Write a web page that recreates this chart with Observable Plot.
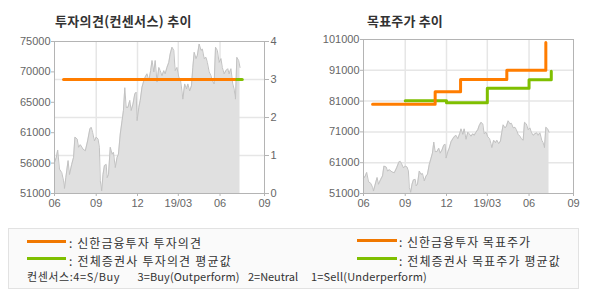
<!DOCTYPE html>
<html><head><meta charset="utf-8">
<script src="https://cdn.jsdelivr.net/npm/d3@7"></script>
<script src="https://cdn.jsdelivr.net/npm/@observablehq/plot@0.6"></script>
<style>
body{margin:0;background:#fff;}
#wrap{position:relative;width:590px;height:300px;overflow:hidden;}
.title{position:absolute;top:11px;font:bold 13px "Noto Sans CJK KR",sans-serif;color:#333;white-space:nowrap;}
.chart{position:absolute;top:0;}
#legend{position:absolute;left:8px;top:228px;width:569px;height:59px;border:1px solid #e2e2e2;background:#fafafa;}
.lg{position:absolute;height:14px;line-height:14px;font:12px "Noto Sans CJK KR",sans-serif;color:#333;white-space:nowrap;}
.sw{position:absolute;height:3px;}
.note{position:absolute;font:11px "Noto Sans CJK KR",sans-serif;color:#333;white-space:pre;line-height:14px;}
</style></head><body>
<div id="wrap">
<div id="c1" class="chart" style="left:0"></div>
<div id="c2" class="chart" style="left:295px"></div>
<div class="title" style="left:55px" id="t1"></div>
<div class="title" style="left:367px" id="t2"></div>
<div id="legend"></div>
</div>
<script>
// ---- data ----
const titles = ["투자의견(컨센서스) 추이", "목표주가 추이"];

const priceDates = ["2018-06-01","2018-06-05","2018-06-08","2018-06-12","2018-06-17","2018-06-21","2018-06-23","2018-06-26","2018-07-01","2018-07-04","2018-07-09","2018-07-13","2018-07-16","2018-07-21","2018-07-24","2018-07-28","2018-08-03","2018-08-08","2018-08-13","2018-08-18","2018-08-21","2018-08-24","2018-08-28","2018-09-01","2018-09-05","2018-09-08","2018-09-10","2018-09-13","2018-09-16","2018-09-19","2018-09-23","2018-09-25","2018-09-28","2018-10-02","2018-10-06","2018-10-09","2018-10-13","2018-10-17","2018-10-20","2018-10-24","2018-10-28","2018-10-31","2018-11-03","2018-11-06","2018-11-10","2018-11-14","2018-11-17","2018-11-21","2018-11-25","2018-11-28","2018-11-30","2018-12-04","2018-12-07","2018-12-11","2018-12-15","2018-12-18","2018-12-22","2018-12-26","2018-12-30","2019-01-02","2019-01-06","2019-01-09","2019-01-13","2019-01-17","2019-01-20","2019-01-24","2019-01-28","2019-01-31","2019-02-04","2019-02-08","2019-02-11","2019-02-15","2019-02-19","2019-02-22","2019-02-26","2019-03-02","2019-03-06","2019-03-09","2019-03-11","2019-03-15","2019-03-19","2019-03-22","2019-03-26","2019-03-30","2019-04-02","2019-04-05","2019-04-09","2019-04-12","2019-04-16","2019-04-20","2019-04-23","2019-04-27","2019-05-01","2019-05-04","2019-05-08","2019-05-12","2019-05-15","2019-05-19","2019-05-22","2019-05-26","2019-05-30","2019-06-03","2019-06-06","2019-06-10","2019-06-14","2019-06-18","2019-06-21","2019-06-25","2019-06-29","2019-07-02","2019-07-05","2019-07-08","2019-07-12","2019-07-15"];
const prices = [55900,56700,57850,54850,54300,53000,51800,53500,56200,54000,55600,56700,59900,59600,58300,58700,58000,57750,59300,61200,61450,60650,59300,59900,59600,58300,53000,51400,54000,55400,55600,53500,54000,58300,57200,57500,55100,56700,57200,60400,62500,64100,67700,64600,64600,65700,64100,65100,66700,67000,62500,64600,65700,67800,68800,69400,69900,68800,70400,72000,70200,72000,68600,70900,70400,69600,70400,69900,70900,71700,73000,74100,73600,70400,70900,69400,68800,67200,65900,68300,67500,68300,67200,68000,70900,73300,72300,72800,74600,73600,73800,72300,72500,71700,70200,69600,68800,68300,74100,73600,71700,72300,70900,69900,70400,70700,69900,70700,68300,67500,65900,72500,72000,70900];

// 투자의견 (consensus, 0-4)
const consShinhanDates = ["2018-06-21","2019-07-08"];
const consShinhan = [3, 3];
const consAllDates = ["2019-07-08","2019-07-20"];
const consAll = [3, 3];

// 목표주가 (target price)
const tpShinhanDates = ["2018-06-21","2018-11-06","2019-01-01","2019-04-13","2019-07-08"];
const tpShinhan = [80000, 84000, 88000, 91000, 100000];
const tpAllDates = ["2018-09-01","2018-12-01","2019-03-01","2019-06-01","2019-07-20"];
const tpAll = [81100, 80500, 85200, 87900, 90700];

const xDomainDates = ["2018-06-01","2019-09-07"];
const xTickDates = ["2018-06-01","2018-09-01","2018-12-01","2019-03-01","2019-06-01","2019-09-07"];
const xTickLabels = ["06","09","12","19/03","06","09"];

const leftDomain = [51000, 75000];
const leftTickLabels = ["51000","56000","61000","65000","70000","75000"];
const consDomain = [0, 4];
const consTickLabels = ["0","1","2","3","4"];

const rightDomain = [51000, 101000];
const rightTickLabels = ["51000","61000","71000","81000","91000","101000"];

const legendItems = [": 신한금융투자 투자의견", ": 전체증권사 투자의견 평균값", ": 신한금융투자 목표주가", ": 전체증권사 목표주가 평균값"];
const legendColors = ["#f07800", "#7fbf00", "#f07800", "#7fbf00"];
const noteParts = ["컨센서스:4=S/Buy", "3=Buy(Outperform)", "2=Neutral", "1=Sell(Underperform)"];

// ---- build ----
const parse = d3.utcParse("%Y-%m-%d");
const priceData = priceDates.map((d, i) => ({date: parse(d), price: prices[i]}));
const xDomain = xDomainDates.map(parse);
const xTicks = xTickDates.map(parse);
const xLabelMap = new Map(xTicks.map((d, i) => [+d, xTickLabels[i]]));
const innerX = xTicks.slice(1, -1);

const ORANGE = "#ff7d00", GREEN = "#7fbf00";
const GRID = "#e6e6e6", FRAME = "#b4b4b4", TXT = "#666";

const leftTicks = d3.range(leftTickLabels.length).map(i => leftDomain[0] + i * (leftDomain[1] - leftDomain[0]) / (leftTickLabels.length - 1));
const leftLabelMap = new Map(leftTicks.map((v, i) => [v, leftTickLabels[i]]));
const consToY = v => leftDomain[0] + (v - consDomain[0]) / (consDomain[1] - consDomain[0]) * (leftDomain[1] - leftDomain[0]);
const consTicks = consTickLabels.map(Number).map(consToY);
const consLabelMap = new Map(consTicks.map((v, i) => [v, consTickLabels[i]]));

const consS = consShinhanDates.map((d, i) => ({date: parse(d), y: consToY(consShinhan[i])}));
const consA = consAllDates.map((d, i) => ({date: parse(d), y: consToY(consAll[i])}));

const common = {
  width: 295, height: 215,
  style: {fontFamily: "'Liberation Sans', Arial, sans-serif", fontSize: "11px", background: "transparent", overflow: "visible"}
};

const p1 = Plot.plot({
  ...common,
  marginLeft: 54, marginRight: 31, marginTop: 41, marginBottom: 22,
  x: {type: "utc", domain: xDomain},
  y: {domain: leftDomain},
  marks: [
    Plot.ruleY(consTicks.slice(1, -1), {stroke: GRID, strokeWidth: 1.5}),
    Plot.ruleX(innerX, {stroke: GRID, strokeWidth: 1.5}),
    Plot.areaY(priceData, {x: "date", y1: leftDomain[0], y2: "price", fill: "#e0e0e0"}),
    Plot.line(priceData, {x: "date", y: "price", stroke: "#c2c2c2", strokeWidth: 1}),
    Plot.line(consS, {x: "date", y: "y", stroke: ORANGE, strokeWidth: 3}),
    Plot.line(consA, {x: "date", y: "y", stroke: GREEN, strokeWidth: 3}),
    Plot.frame({stroke: FRAME}),
    Plot.axisY(leftTicks, {anchor: "left", tickSize: 3, tickPadding: 1, stroke: FRAME, fill: TXT, tickFormat: d => leftLabelMap.get(d), label: null}),
    Plot.axisY(consTicks, {anchor: "right", tickSize: 4, tickPadding: 2, stroke: FRAME, fill: TXT, tickFormat: d => consLabelMap.get(d), label: null}),
    Plot.axisX(xTicks, {anchor: "bottom", tickSize: 3, tickPadding: 3, stroke: FRAME, fill: TXT, tickFormat: d => xLabelMap.get(+d), label: null})
  ]
});
document.getElementById("c1").append(p1);

const rightTicks = d3.range(rightTickLabels.length).map(i => rightDomain[0] + i * (rightDomain[1] - rightDomain[0]) / (rightTickLabels.length - 1));
const rightLabelMap = new Map(rightTicks.map((v, i) => [v, rightTickLabels[i]]));
const tpS = tpShinhanDates.map((d, i) => ({date: parse(d), tp: tpShinhan[i]}));
const tpA = tpAllDates.map((d, i) => ({date: parse(d), tp: tpAll[i]}));

const p2 = Plot.plot({
  ...common,
  marginLeft: 68, marginRight: 17, marginTop: 39, marginBottom: 22,
  x: {type: "utc", domain: xDomain},
  y: {domain: rightDomain},
  marks: [
    Plot.ruleY(rightTicks.slice(1, -1), {stroke: GRID, strokeWidth: 1.5}),
    Plot.ruleX(innerX, {stroke: GRID, strokeWidth: 1.5}),
    Plot.areaY(priceData, {x: "date", y1: rightDomain[0], y2: "price", fill: "#e0e0e0"}),
    Plot.line(priceData, {x: "date", y: "price", stroke: "#c2c2c2", strokeWidth: 1}),
    Plot.line(tpA, {x: "date", y: "tp", stroke: GREEN, strokeWidth: 3, curve: "step-after"}),
    Plot.line(tpS, {x: "date", y: "tp", stroke: ORANGE, strokeWidth: 3, curve: "step-after"}),
    Plot.frame({stroke: FRAME}),
    Plot.axisY(rightTicks, {anchor: "left", tickSize: 3, tickPadding: 1, stroke: FRAME, fill: TXT, tickFormat: d => rightLabelMap.get(d), label: null}),
    Plot.axisX(xTicks, {anchor: "bottom", tickSize: 3, tickPadding: 3, stroke: FRAME, fill: TXT, tickFormat: d => xLabelMap.get(+d), label: null})
  ]
});
document.getElementById("c2").append(p2);

// stretch text horizontally to a target width via letter-spacing
function fitWidth(el, target) {
  const w = el.getBoundingClientRect().width;
  const n = [...el.textContent].length;
  el.style.letterSpacing = ((target - w) / n).toFixed(2) + "px";
}

const t1 = document.getElementById("t1"), t2 = document.getElementById("t2");
t1.textContent = titles[0];
t2.textContent = titles[1];
fitWidth(t1, 137);
fitWidth(t2, 76);

// legend
const lg = document.getElementById("legend");
const pos = [[18, 12], [18, 29.5], [348, 11], [348, 29.5]];
const widths = [133, 163, 132, 162];
legendItems.forEach((txt, i) => {
  const [lx, ly] = pos[i];
  const sw = document.createElement("div");
  sw.className = "sw";
  sw.style.cssText = `left:${lx}px;top:${ly - 1.5}px;width:${i < 2 ? 39 : 40}px;background:${legendColors[i]}`;
  lg.append(sw);
  const t = document.createElement("div");
  t.className = "lg";
  t.style.cssText = `left:${lx + 42}px;top:${ly - 7}px`;
  t.textContent = txt;
  lg.append(t);
  fitWidth(t, widths[i]);
});
const noteX = [18, 128.5, 239, 302];
const noteW = [93, 102, 50, 116];
noteParts.forEach((txt, i) => {
  const n = document.createElement("div");
  n.className = "note";
  n.style.cssText = `left:${noteX[i]}px;top:40px`;
  n.textContent = txt;
  lg.append(n);
  fitWidth(n, noteW[i]);
});
</script>
</body></html>
